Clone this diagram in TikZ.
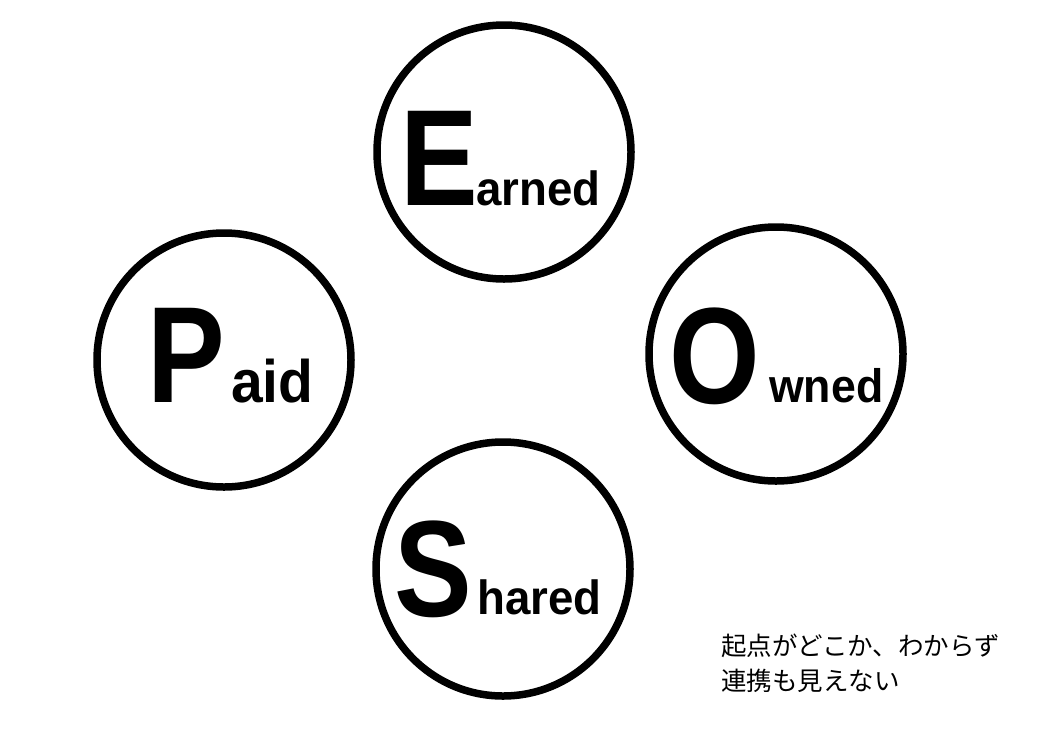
\documentclass[tikz,border=0pt]{standalone}
\usepackage{fontspec}
\newfontfamily\initialfont[FakeStretch=0.85]{Liberation Sans}
\newfontfamily\latinfont[FakeStretch=0.95]{Liberation Sans}
\newfontfamily\jpfont{Noto Sans CJK JP}

\begin{document}
\begin{tikzpicture}[x=1pt, y=-1pt,
        ring/.style={draw, circle, line width=7.5pt, minimum size=254pt, inner sep=0pt},
        initial/.style={anchor=base west, inner sep=0pt, font=\initialfont\bfseries\fontsize{137}{137}\selectfont},
        rest/.style={anchor=base west, inner sep=0pt, font=\latinfont\bfseries\fontsize{#1}{#1}\selectfont}]
        \useasboundingbox (0, 0) rectangle (1052, 732);
        \node[ring] at (504, 152) (earned) {};
        \node[ring] at (224, 360) (paid) {};
        \node[ring] at (776, 354) (owned) {};
        \node[ring] at (503, 569) (shared) {};
        \node[initial] at (400, 205) (E) {E};
        \node[rest=48] at (476, 205) (arned) {arned};
        \node[initial] at (147, 402) (P) {P};
        \node[rest=60] at (231, 402) (aid) {aid};
        \node[initial] at (669, 403) (O) {O};
        \node[rest=47] at (769, 402) (wned) {wned};
        \node[initial] at (394, 616) (S) {S};
        \node[rest=48] at (477, 614) (hared) {hared};
        \node[anchor=north west, inner sep=0pt, align=left, font=\jpfont\fontsize{25.5}{35}\selectfont] at (721, 634) (note) {起点がどこか、わからず\\連携も見えない};
    \end{tikzpicture}
\end{document}
